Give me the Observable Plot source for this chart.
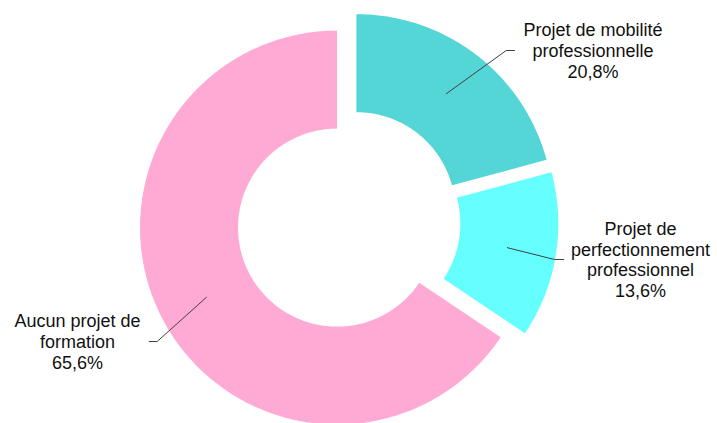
<!DOCTYPE html>
<html>
<head>
<meta charset="utf-8">
<script src="https://cdn.jsdelivr.net/npm/d3@7"></script>
<script src="https://cdn.jsdelivr.net/npm/@observablehq/plot@0.6"></script>
<style>
  html, body { margin: 0; padding: 0; background: #ffffff; }
  #chart svg { display: block; }
</style>
</head>
<body>
<div id="chart"></div>
<script>
// ---- Data ----
const categories = [
  "Projet de mobilité professionnelle",
  "Projet de perfectionnement professionnel",
  "Aucun projet de formation"
];
const labelLines = [
  ["Projet de mobilité", "professionnelle"],
  ["Projet de", "perfectionnement", "professionnel"],
  ["Aucun projet de", "formation"]
];
const shares = [20.8, 13.6, 65.6];
const valueLabels = ["20,8%", "13,6%", "65,6%"];

// ---- Style / layout (pixel units relative to the pie centre, y up) ----
const colors = ["#54D5D6", "#66FFFF", "#FFAAD4"];
const W = 717, H = 423;
const centre = [348, 221];
const outerR = 197, innerR = 99, explode = 13;
const labelLayout = [
  {x: 244.5, y: 171, elbowX: 157.7, endX: 166},
  {x: 292, y: -38, elbowX: 206, endX: 215.3},
  {x: -271, y: -120, elbowX: -191.3, endX: -199.3}
];

// ---- Geometry derived from data ----
const pie = d3.pie().sort(null).value(d => d)(shares);
const polys = [];
const leaders = [];
const labels = [];
pie.forEach((p, i) => {
  const mid = (p.startAngle + p.endAngle) / 2;
  const ox = explode * Math.sin(mid), oy = explode * Math.cos(mid);
  const n = Math.max(8, Math.ceil((p.endAngle - p.startAngle) * 60));
  const pts = [];
  for (let k = 0; k <= n; k++) {
    const a = p.startAngle + (p.endAngle - p.startAngle) * k / n;
    pts.push({x: ox + outerR * Math.sin(a), y: oy + outerR * Math.cos(a)});
  }
  for (let k = n; k >= 0; k--) {
    const a = p.startAngle + (p.endAngle - p.startAngle) * k / n;
    pts.push({x: ox + innerR * Math.sin(a), y: oy + innerR * Math.cos(a)});
  }
  pts.forEach(q => polys.push({...q, slice: categories[i], color: colors[i]}));
  const rm = (outerR + innerR) / 2;
  const L = labelLayout[i];
  leaders.push({x: ox + rm * Math.sin(mid), y: oy + rm * Math.cos(mid), slice: categories[i]});
  leaders.push({x: L.elbowX, y: L.y, slice: categories[i]});
  leaders.push({x: L.endX, y: L.y, slice: categories[i]});
  labels.push({x: L.x, y: L.y, text: labelLines[i].concat([valueLabels[i]]).join("\n")});
});

const chart = Plot.plot({
  width: W,
  height: H,
  margin: 0,
  style: {background: "#ffffff", overflow: "visible"},
  x: {axis: null, domain: [-centre[0], W - centre[0]], range: [0, W]},
  y: {axis: null, domain: [-(H - centre[1]), centre[1]], range: [H, 0]},
  color: {type: "identity"},
  marks: [
    Plot.line(polys, {x: "x", y: "y", z: "slice", fill: "color", stroke: "none", curve: "linear-closed"}),
    Plot.line(leaders, {x: "x", y: "y", z: "slice", stroke: "#404040", strokeWidth: 1}),
    Plot.text(labels, {
      x: "x", y: "y", text: "text",
      fontSize: 18, lineHeight: 1.15,
      fontFamily: "'Liberation Sans', Arial, sans-serif",
      fill: "#111111", textAnchor: "middle", lineAnchor: "middle"
    })
  ]
});
document.getElementById("chart").appendChild(chart);
</script>
</body>
</html>
